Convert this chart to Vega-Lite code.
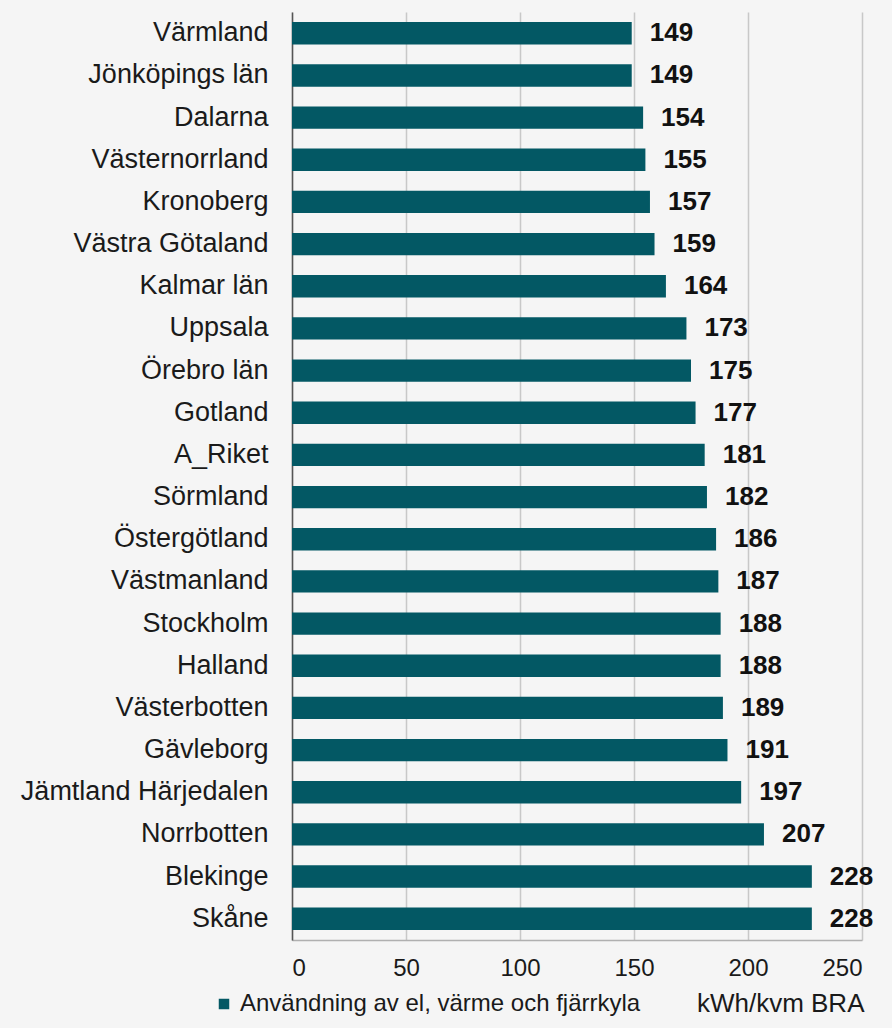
{
  "$schema": "https://vega.github.io/schema/vega-lite/v6.json",
  "autosize": "none",
  "width": 570,
  "height": 928,
  "padding": {"left": 292, "top": 12, "right": 30, "bottom": 88},
  "background": "#f5f5f5",
  "config": {
    "view": {"stroke": null},
    "font": "Liberation Sans"
  },
  "data": {
    "values": [
      {"lan": "Värmland", "varde": 149, "serie": "Användning av el, värme och fjärrkyla"},
      {"lan": "Jönköpings län", "varde": 149, "serie": "Användning av el, värme och fjärrkyla"},
      {"lan": "Dalarna", "varde": 154, "serie": "Användning av el, värme och fjärrkyla"},
      {"lan": "Västernorrland", "varde": 155, "serie": "Användning av el, värme och fjärrkyla"},
      {"lan": "Kronoberg", "varde": 157, "serie": "Användning av el, värme och fjärrkyla"},
      {"lan": "Västra Götaland", "varde": 159, "serie": "Användning av el, värme och fjärrkyla"},
      {"lan": "Kalmar län", "varde": 164, "serie": "Användning av el, värme och fjärrkyla"},
      {"lan": "Uppsala", "varde": 173, "serie": "Användning av el, värme och fjärrkyla"},
      {"lan": "Örebro län", "varde": 175, "serie": "Användning av el, värme och fjärrkyla"},
      {"lan": "Gotland", "varde": 177, "serie": "Användning av el, värme och fjärrkyla"},
      {"lan": "A_Riket", "varde": 181, "serie": "Användning av el, värme och fjärrkyla"},
      {"lan": "Sörmland", "varde": 182, "serie": "Användning av el, värme och fjärrkyla"},
      {"lan": "Östergötland", "varde": 186, "serie": "Användning av el, värme och fjärrkyla"},
      {"lan": "Västmanland", "varde": 187, "serie": "Användning av el, värme och fjärrkyla"},
      {"lan": "Stockholm", "varde": 188, "serie": "Användning av el, värme och fjärrkyla"},
      {"lan": "Halland", "varde": 188, "serie": "Användning av el, värme och fjärrkyla"},
      {"lan": "Västerbotten", "varde": 189, "serie": "Användning av el, värme och fjärrkyla"},
      {"lan": "Gävleborg", "varde": 191, "serie": "Användning av el, värme och fjärrkyla"},
      {"lan": "Jämtland Härjedalen", "varde": 197, "serie": "Användning av el, värme och fjärrkyla"},
      {"lan": "Norrbotten", "varde": 207, "serie": "Användning av el, värme och fjärrkyla"},
      {"lan": "Blekinge", "varde": 228, "serie": "Användning av el, värme och fjärrkyla"},
      {"lan": "Skåne", "varde": 228, "serie": "Användning av el, värme och fjärrkyla"}
    ]
  },
  "encoding": {
    "y": {
      "field": "lan",
      "type": "nominal",
      "sort": null,
      "scale": {"paddingInner": 0.47, "paddingOuter": 0.24},
      "axis": {
        "title": null,
        "ticks": false,
        "domainColor": "#555555",
        "domainWidth": 1.5,
        "labelFontSize": 27,
        "labelColor": "#1a1a1a",
        "labelPadding": 24,
        "labelLimit": 300
      }
    },
    "x": {
      "field": "varde",
      "type": "quantitative",
      "scale": {"domain": [0, 250], "nice": false},
      "axis": {
        "values": [0, 50, 100, 150, 200, 250],
        "grid": true,
        "gridColor": "#c8c8c8",
        "gridWidth": 1.5,
        "ticks": false,
        "domain": true,
        "domainColor": "#b0b0b0",
        "domainWidth": 1.5,
        "labelFontSize": 24,
        "labelColor": "#1a1a1a",
        "labelPadding": 16,
        "title": "kWh/kvm BRA",
        "titleFontSize": 26,
        "titleFontWeight": "normal",
        "titleColor": "#1a1a1a",
        "titleAnchor": "end",
        "titleAlign": "right",
        "titleX": 572,
        "titleY": 63,
        "titleBaseline": "middle"
      }
    }
  },
  "layer": [
    {
      "mark": {"type": "bar"},
      "encoding": {
        "color": {
          "field": "serie",
          "type": "nominal",
          "scale": {"range": ["#035864"]},
          "legend": {
            "title": null,
            "orient": "none",
            "legendX": -80,
            "legendY": 980,
            "symbolType": "square",
            "symbolSize": 110,
            "labelFontSize": 24,
            "labelColor": "#1a1a1a",
            "labelOffset": 4,
            "labelLimit": 500
          }
        }
      }
    },
    {
      "mark": {"type": "text", "align": "left", "dx": 18, "fontSize": 26, "fontWeight": "bold", "color": "#111111"},
      "encoding": {
        "text": {"field": "varde", "type": "quantitative"}
      }
    }
  ]
}
